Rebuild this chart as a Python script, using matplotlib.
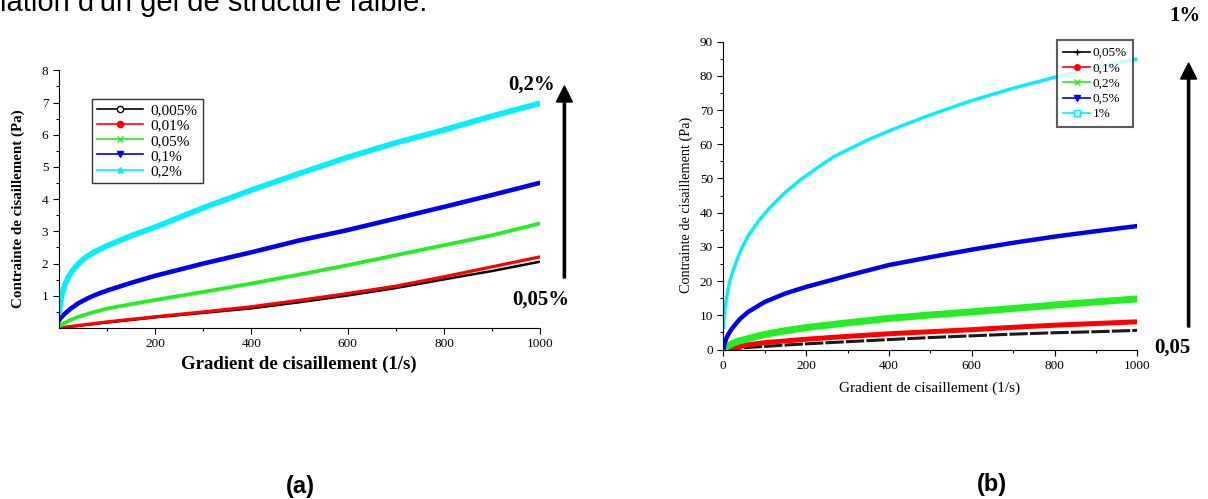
import numpy as np
import matplotlib.pyplot as plt
from matplotlib.lines import Line2D
from matplotlib.patches import FancyArrow

plt.rcParams['font.family'] = ['Liberation Serif', 'DejaVu Serif']

W, H = 1208, 499

# --- figure (a) : contrainte (Pa) en fonction du gradient (1/s)
x_a1 = [0, 100, 200, 300, 400, 500, 600, 700, 800, 900, 1000]
a_0005 = [0.0, 0.17, 0.33, 0.47, 0.61, 0.80, 1.01, 1.24, 1.51, 1.77, 2.06]
a_001 = [0.0, 0.19, 0.35, 0.50, 0.66, 0.86, 1.07, 1.30, 1.59, 1.90, 2.21]

x_a2 = [0, 5, 20, 41, 70, 100, 150, 200, 300, 400, 500, 600, 700, 800, 900, 1000]
a_005 = [0.03, 0.10, 0.22, 0.35, 0.48, 0.60, 0.74, 0.87, 1.12, 1.38, 1.66, 1.95, 2.26, 2.57, 2.88, 3.25]

x_a3 = [0, 3, 13, 25, 41, 60, 75, 100, 150, 200, 300, 400, 500, 600, 700, 800, 900, 1000]
a_01 = [0.2, 0.3, 0.45, 0.6, 0.77, 0.92, 1.02, 1.16, 1.40, 1.62, 2.00, 2.35, 2.72, 3.04, 3.40, 3.76, 4.13, 4.51]

x_a4 = [0, 3, 6, 13, 20, 27, 41, 55, 75, 100, 150, 200, 300, 400, 500, 600, 700, 800, 900, 1000]
a_02 = [0.4, 0.7, 1.0, 1.35, 1.58, 1.75, 2.0, 2.18, 2.37, 2.55, 2.86, 3.13, 3.73, 4.28, 4.8, 5.3, 5.75, 6.15, 6.58, 6.98]

labels_a = ["0,005%", "0,01%", "0,05%", "0,1%", "0,2%"]

# --- figure (b)
x_b = [0, 10, 30, 60, 100, 150, 200, 270, 400, 500, 600, 700, 800, 900, 1000]
b_005 = [0, 0.1, 0.3, 0.6, 0.9, 1.3, 1.65, 2.1, 2.9, 3.5, 4.0, 4.5, 4.9, 5.2, 5.6]
b_01 = [0, 0.1, 0.6, 1.4, 2.0, 2.5, 3.0, 3.6, 4.6, 5.2, 5.8, 6.5, 7.1, 7.6, 8.1]
b_02 = [0, 1.0, 2.2, 3.2, 4.4, 5.5, 6.4, 7.4, 9.1, 10.1, 11.0, 12.0, 13.0, 13.9, 14.8]

x_b2 = [0, 5, 10, 20, 40, 60, 100, 150, 200, 270, 300, 400, 500, 600, 700, 800, 900, 1000]
b_05 = [0, 2.5, 4, 6, 8.9, 11, 13.9, 16.4, 18.3, 20.6, 21.6, 24.7, 27, 29.2, 31.2, 33, 34.6, 36.1]

x_b3 = [0, 3, 8, 16, 29, 45, 62, 86, 110, 150, 186, 230, 267, 347, 428, 500, 600, 700, 800, 900, 1000]
b_1 = [6, 11, 15.3, 20.2, 25, 29.8, 33.6, 37.7, 41.2, 46, 49.6, 53.4, 56.4, 61.2, 65.3, 68.6, 72.8, 76.4, 79.6, 82.5, 85]

labels_b = ["0,05%", "0,1%", "0,2%", "0,5%", "1%"]

couleurs = ["black", "#ff0000", "#22ee22", "#0000ee", "#00f0ff"]


def px(x, y):
    return x / W, 1 - y / H


fig = plt.figure(figsize=(W / 100, H / 100), dpi=100)

# ligne de texte du document, coupee en haut comme dans l'original
fig.text(*px(0, 11), "lation d'un gel de structure faible.", family='Liberation Sans',
         fontsize=21, va='baseline', ha='left')

# ---------------- (a)
ax1 = fig.add_axes([58.7 / W, 1 - 328 / H, 481.6 / W, 257.7 / H])
courbes_a = [(x_a1, a_0005), (x_a1, a_001), (x_a2, a_005), (x_a3, a_01), (x_a4, a_02)]
larg_a = [1.8, 2.3, 2.7, 3.3, 4.0]
for (xx, yy), c, lw in zip(courbes_a, couleurs, larg_a):
    ax1.plot(xx, yy, color=c, lw=lw, solid_capstyle='butt', solid_joinstyle='round')
ax1.set_xlim(0, 1000)
ax1.set_ylim(0, 8)
ax1.set_xticks([200, 400, 600, 800, 1000])
ax1.set_xticks(np.arange(100, 1000, 200), minor=True)
ax1.set_yticks(range(1, 9))
ax1.set_yticks(np.arange(0.5, 8, 1), minor=True)
ax1.spines[['top', 'right']].set_visible(False)
ax1.tick_params(labelsize=9.5, length=4, width=0.8)
ax1.tick_params(which='minor', length=2.5, width=0.8)
ax1.set_xlabel("Gradient de cisaillement (1/s)", fontweight='bold', fontsize=13.5, va='center')
ax1.xaxis.set_label_coords(0.499, -0.14)
ax1.set_ylabel("Contrainte de cisaillement (Pa)", fontweight='bold', fontsize=10.8, va='center')
ax1.yaxis.set_label_coords(-0.0837, 0.462)

marq_a = ['o', 'o', 'x', 'v', '*']
h_a = []
for c, m in zip(couleurs, marq_a):
    fc = 'white' if c == 'black' else c
    h_a.append(Line2D([], [], color=c, marker=m, markersize=4.5, markerfacecolor=fc, lw=1.2))
leg1 = ax1.legend(h_a, labels_a, loc='upper left', bbox_to_anchor=px(91.8, 98.7),
                  bbox_transform=fig.transFigure, fancybox=False, edgecolor='black',
                  fontsize=11, handlelength=3.0, handletextpad=0.5, labelspacing=0.09,
                  borderpad=0.34, borderaxespad=0)
leg1.get_frame().set_linewidth(1.0)

fig.text(*px(532, 84.5), "0,2%", fontweight='bold', fontsize=15, ha='center', va='center')
fig.text(*px(541, 300), "0,05%", fontweight='bold', fontsize=15, ha='center', va='center')
fig.add_artist(FancyArrow(*px(564.4, 278), 0, (278 - 86) / H, width=2.2 / W,
               head_width=16 / W, head_length=16 / H, length_includes_head=True,
               color='black', transform=fig.transFigure))

# ---------------- (b)
ax2 = fig.add_axes([723.3 / W, 1 - 349.5 / H, 414.1 / W, 307.8 / H])
courbes_b = [(x_b, b_005), (x_b, b_01), (x_b, b_02), (x_b2, b_05), (x_b3, b_1)]
larg_b = [2.2, 3.6, 5.0, 3.2, 2.4]
for (xx, yy), c, lw in zip(courbes_b, couleurs, larg_b):
    if c == 'black':
        ax2.plot(xx, yy, color='#1a1a1a', lw=lw, dashes=(6, 0.7))
    else:
        ax2.plot(xx, yy, color=c, lw=lw, solid_capstyle='butt', solid_joinstyle='round')
ax2.set_xlim(0, 1000)
ax2.set_ylim(0, 90)
ax2.set_xticks(range(0, 1001, 200))
ax2.set_xticks(range(100, 1000, 200), minor=True)
ax2.set_yticks(range(0, 91, 10))
ax2.set_yticks(range(5, 90, 10), minor=True)
ax2.spines[['top', 'right']].set_visible(False)
ax2.tick_params(labelsize=9.5, length=4, width=0.8)
ax2.tick_params(which='minor', length=2.5, width=0.8)
ax2.set_xlabel("Gradient de cisaillement (1/s)", fontsize=11, va='center')
ax2.xaxis.set_label_coords(0.499, -0.125)
ax2.set_ylabel("Contrainte de cisaillement (Pa)", fontsize=10.3, va='center')
ax2.yaxis.set_label_coords(-0.09, 0.47)

marq_b = ['+', 'o', 'x', 'v', 's']
h_b = []
for c, m in zip(couleurs, marq_b):
    fc = 'white' if m == 's' else c
    h_b.append(Line2D([], [], color=c, marker=m, markersize=4, markerfacecolor=fc, lw=1.2))
leg2 = ax2.legend(h_b, labels_b, loc='upper left', bbox_to_anchor=px(1056.8, 40.3),
                  bbox_transform=fig.transFigure, fancybox=False, edgecolor='#333333',
                  fontsize=9.5, handlelength=2.0, handletextpad=0.2, labelspacing=0.235,
                  borderpad=0.5, borderaxespad=0)
leg2.get_frame().set_linewidth(1.5)

fig.text(*px(1185, 16), "1%", fontweight='bold', fontsize=15, ha='center', va='center')
fig.text(*px(1172.5, 348), "0,05", fontweight='bold', fontsize=15, ha='center', va='center')
fig.add_artist(FancyArrow(*px(1188.6, 327), 0, (327 - 63) / H, width=2.2 / W,
               head_width=16 / W, head_length=16 / H, length_includes_head=True,
               color='black', transform=fig.transFigure))

# etiquettes (a) et (b)
fig.text(*px(300, 486), "(a)", family='Liberation Sans', fontweight='bold',
         fontsize=17, ha='center', va='center')
fig.text(*px(991.5, 484), "(b)", family='Liberation Sans', fontweight='bold',
         fontsize=17, ha='center', va='center')

fig.savefig("out.png", dpi=100)
